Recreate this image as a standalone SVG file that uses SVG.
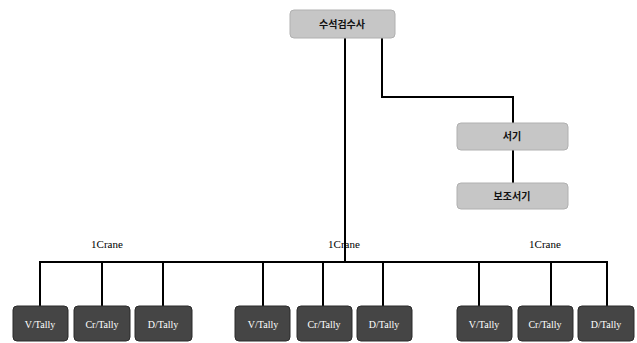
<svg xmlns="http://www.w3.org/2000/svg" width="637" height="343" viewBox="0 0 637 343">
<style>
.lt{fill:#c6c6c6;stroke:#b0b0b0;stroke-width:1}
.dk{fill:#454545;stroke:#2a2a2a;stroke-width:1}
.kt{font-family:"Noto Sans CJK KR","Noto Sans",sans-serif;font-size:10px;fill:#111;text-anchor:middle;font-weight:bold}
.bt{font-family:"Liberation Serif",serif;font-size:10px;fill:#fff;text-anchor:middle}
.cr{font-family:"Liberation Serif",serif;font-size:11px;fill:#000;text-anchor:middle}
.ln{stroke:#000;stroke-width:2;fill:none}
</style>
<rect width="637" height="343" fill="#fff"/>
<g id="connectors">
<path class="ln" d="M345 38 V262"/>
<path class="ln" d="M382 38 V97 H513 V123"/>
<path class="ln" d="M513 150 V183"/>
<path class="ln" d="M39 262 H608"/>
<path class="ln" d="M40 262 V306 M102 262 V306 M163 262 V306 M263 262 V306 M323 262 V306 M383 262 V306 M479 262 V306 M551 262 V306 M607 262 V306"/>
</g>
<g id="n-chief"><rect class="lt" x="290" y="10" width="105" height="28" rx="4"/><text class="kt" x="342" y="28">수석검수사</text></g>
<g id="n-clerk"><rect class="lt" x="457" y="123" width="111" height="27" rx="4"/><text class="kt" x="512" y="140">서기</text></g>
<g id="n-subclerk"><rect class="lt" x="457" y="183" width="111" height="26" rx="4"/><text class="kt" x="512" y="200">보조서기</text></g>
<text class="cr" x="107" y="248">1Crane</text>
<text class="cr" x="344" y="248">1Crane</text>
<text class="cr" x="545" y="248">1Crane</text>
<g id="g1a"><rect class="dk" x="13" y="306" width="55" height="35" rx="4"/><text class="bt" x="40" y="328">V/Tally</text></g>
<g id="g1b"><rect class="dk" x="74" y="306" width="56" height="35" rx="4"/><text class="bt" x="102" y="328">Cr/Tally</text></g>
<g id="g1c"><rect class="dk" x="135" y="306" width="57" height="35" rx="4"/><text class="bt" x="163" y="328">D/Tally</text></g>
<g id="g2a"><rect class="dk" x="235" y="306" width="55" height="35" rx="4"/><text class="bt" x="263" y="328">V/Tally</text></g>
<g id="g2b"><rect class="dk" x="297" y="306" width="55" height="35" rx="4"/><text class="bt" x="324" y="328">Cr/Tally</text></g>
<g id="g2c"><rect class="dk" x="357" y="306" width="55" height="35" rx="4"/><text class="bt" x="384" y="328">D/Tally</text></g>
<g id="g3a"><rect class="dk" x="457" y="306" width="55" height="35" rx="4"/><text class="bt" x="484" y="328">V/Tally</text></g>
<g id="g3b"><rect class="dk" x="518" y="306" width="55" height="35" rx="4"/><text class="bt" x="545" y="328">Cr/Tally</text></g>
<g id="g3c"><rect class="dk" x="578" y="306" width="56" height="35" rx="4"/><text class="bt" x="606" y="328">D/Tally</text></g>
</svg>
